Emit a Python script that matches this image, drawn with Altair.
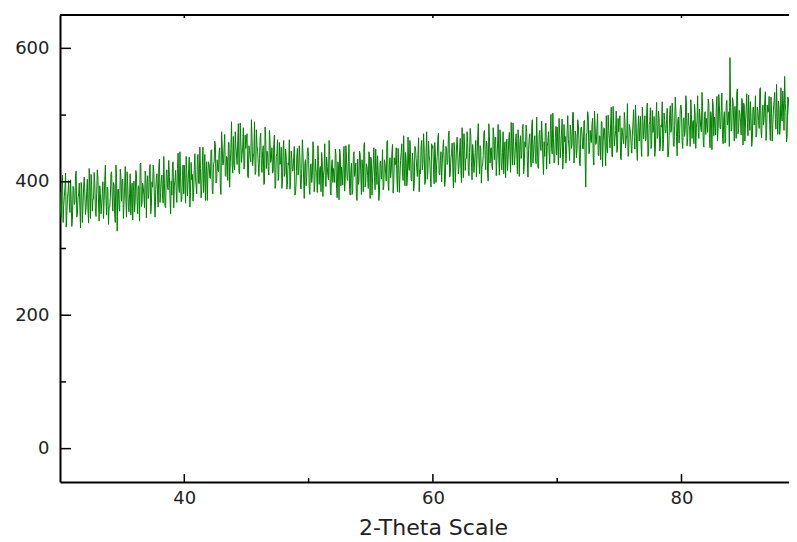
import altair as alt
import pandas as pd
import numpy as np

# ---- data ----
# counts at 2-theta = 30.00, 30.10, 30.20, ...
intensity_a = [
    385, 347, 410, 364, 392, 332, 377, 402, 354, 374,
    344, 389, 369, 416, 352, 382, 362, 399, 339, 392,
    382, 361, 404, 338, 386, 411, 356, 374, 398, 348,
    418, 368, 394, 352, 381, 345, 402, 372, 392, 336,
    362, 412, 377, 399, 351, 425, 326, 389, 356, 407,
    402, 345, 392, 374, 415, 362, 382, 350, 398, 385,
    355, 417, 371, 394, 341, 428, 368, 391, 361, 410,
    396, 375, 418, 352, 400, 425, 370, 388, 412, 362,
    434, 384, 410, 368, 397, 361, 418, 388, 408, 352,
    380, 430, 395, 417, 369, 443, 384, 407, 374, 425,
    425, 368, 414, 396, 437, 384, 403, 371, 419, 406,
    382, 441, 397, 420, 388, 452, 405, 372, 430, 412,
    426, 405, 448, 382, 430, 455, 400, 418, 444, 392,
    475, 425, 451, 409, 438, 402, 459, 429, 490, 413,
    425, 475, 440, 462, 414, 488, 429, 452, 419, 470,
    465, 408, 454, 436, 493, 424, 443, 411, 478, 446,
    408, 466, 422, 445, 396, 482, 420, 443, 410, 460,
    434, 413, 456, 390, 438, 463, 408, 426, 452, 400,
    462, 412, 438, 396, 425, 389, 446, 416, 436, 380,
    400, 450, 415, 437, 389, 463, 404, 427, 394, 445,
    438, 381, 427, 409, 450, 397, 416, 384, 432, 419,
    385, 430, 410, 457, 393, 423, 403, 440, 380, 433,
    420, 399, 442, 376, 424, 449, 394, 412, 436, 386,
    454, 404, 430, 388, 417, 381, 438, 408, 428, 372,
    396, 446, 411, 433, 385, 459, 400, 423, 390, 441,
    437, 380, 426, 408, 449, 396, 415, 383, 431, 418,
    388, 433, 413, 460, 396, 426, 406, 443, 383, 436,
    428, 407, 450, 384, 432, 457, 402, 420, 444, 394,
    467, 417, 443, 401, 430, 394, 451, 421, 441, 385,
    412, 462, 427, 449, 401, 475, 416, 439, 406, 457,
    454, 397, 443, 425, 466, 413, 432, 400, 448, 435,
    404, 449, 429, 476, 412, 442, 422, 459, 399, 452,
    443, 422, 465, 399, 447, 472, 417, 435, 459, 409,
    480, 430, 456, 414, 443, 407, 464, 434, 454, 398,
    424, 474, 439, 461, 413, 487, 428, 451, 418, 469,
    466, 409, 455, 437, 478, 425, 444, 412, 460, 447,
    417, 462, 442, 489, 425, 455, 435, 472, 412, 465,
    456, 435, 478, 412, 460, 485, 430, 448, 472, 422,
    493, 443, 469, 427, 456, 420, 477, 447, 467, 411,
    438, 488, 453, 475, 427, 501, 442, 465, 432, 483,
    482, 425, 471, 453, 494, 441, 460, 428, 476, 463,
    432, 477, 457, 504, 440, 470, 450, 487, 427, 480,
    470, 449, 492, 392, 474, 499, 444, 462, 486, 436,
    506, 456, 482, 440, 469, 433, 490, 460, 480, 424,
    450, 500, 465, 487, 439, 513, 454, 477, 444, 495,
    492, 435, 481, 463, 504, 451, 470, 438, 486, 473,
    443, 488, 468, 515, 451, 481, 461, 498, 438, 491,
    482, 461, 504, 438, 486, 511, 456, 474, 498, 448,
    519, 469, 495, 453, 482, 446, 503, 473, 493, 437,
    464, 514, 479, 501, 453, 527, 468, 491, 458, 509,
    507, 450, 496, 478, 519, 466, 485, 453, 501, 488,
    457, 502, 482, 529, 465, 495, 475, 512, 452, 505,
    495, 474, 517, 451, 499, 524, 469, 487, 511, 461,
    531, 481, 507, 465, 494, 458, 515, 485, 505, 586,
    476, 526, 491, 513, 465, 539, 480, 503, 470, 521,
    518, 461, 507, 489, 530, 477, 496, 464, 512, 499,
    467, 512, 492, 539, 475, 505, 485, 522, 462, 515,
    505, 484, 527, 461, 509, 534, 479, 497, 521, 471,
    541, 491, 517, 558, 504, 468, 525, 495, 515, 459,
]
# counts at 2-theta = 30.05, 30.15, 30.25, ...
intensity_b = [
    358, 399, 339, 378, 413, 350, 385, 367, 403, 333,
    393, 366, 410, 347, 376, 398, 331, 389, 363, 407,
    351, 385, 359, 420, 345, 394, 374, 414, 356, 383,
    407, 341, 382, 365, 400, 372, 425, 350, 389, 362,
    377, 415, 356, 396, 339, 406, 388, 361, 419, 371,
    404, 369, 423, 347, 395, 355, 412, 382, 343, 401,
    371, 412, 352, 391, 426, 363, 398, 380, 416, 346,
    409, 382, 426, 363, 392, 414, 347, 405, 379, 423,
    369, 403, 377, 438, 363, 412, 392, 432, 374, 401,
    427, 361, 402, 385, 420, 392, 445, 370, 409, 382,
    400, 438, 379, 419, 362, 429, 411, 384, 442, 394,
    433, 398, 452, 376, 424, 384, 441, 411, 372, 430,
    406, 447, 387, 426, 461, 398, 433, 415, 451, 381,
    454, 427, 471, 408, 437, 459, 392, 450, 424, 468,
    418, 452, 426, 487, 412, 461, 441, 481, 423, 450,
    472, 406, 447, 430, 465, 437, 490, 415, 454, 427,
    435, 473, 414, 454, 397, 464, 446, 419, 477, 429,
    451, 416, 470, 394, 442, 402, 459, 429, 390, 448,
    408, 449, 389, 428, 463, 400, 435, 417, 453, 383,
    437, 410, 454, 391, 420, 442, 375, 433, 407, 451,
    391, 425, 399, 460, 385, 434, 414, 454, 396, 423,
    444, 378, 419, 402, 437, 409, 462, 387, 426, 399,
    411, 449, 390, 430, 373, 440, 422, 395, 453, 405,
    437, 402, 456, 380, 428, 388, 445, 415, 376, 434,
    400, 441, 381, 420, 455, 392, 427, 409, 445, 375,
    434, 407, 451, 388, 417, 439, 372, 430, 404, 448,
    393, 427, 401, 462, 387, 436, 416, 456, 398, 425,
    451, 385, 426, 409, 444, 416, 469, 394, 433, 406,
    424, 462, 403, 443, 386, 453, 435, 408, 466, 418,
    453, 418, 472, 396, 444, 404, 461, 431, 392, 450,
    418, 459, 399, 438, 473, 410, 445, 427, 463, 393,
    453, 426, 470, 407, 436, 458, 391, 449, 423, 467,
    412, 446, 420, 481, 406, 455, 435, 475, 417, 444,
    469, 403, 444, 427, 462, 434, 487, 412, 451, 424,
    439, 477, 418, 458, 401, 468, 450, 423, 481, 433,
    467, 432, 486, 410, 458, 418, 475, 445, 406, 464,
    433, 474, 414, 453, 488, 425, 460, 442, 478, 408,
    469, 442, 486, 423, 452, 474, 407, 465, 439, 483,
    428, 462, 436, 497, 422, 471, 451, 491, 433, 460,
    485, 419, 460, 443, 478, 450, 503, 428, 467, 440,
    457, 495, 436, 476, 419, 486, 468, 441, 499, 451,
    485, 450, 504, 428, 476, 436, 493, 463, 424, 482,
    450, 491, 431, 470, 505, 442, 477, 459, 495, 425,
    485, 458, 502, 439, 468, 490, 423, 481, 455, 499,
    443, 477, 451, 512, 437, 486, 466, 506, 448, 475,
    499, 433, 474, 457, 492, 464, 517, 442, 481, 454,
    470, 508, 449, 489, 432, 499, 481, 454, 512, 464,
    499, 464, 518, 442, 490, 450, 507, 477, 438, 496,
    465, 506, 446, 485, 520, 457, 492, 474, 510, 440,
    501, 474, 518, 455, 484, 506, 439, 497, 471, 515,
    460, 494, 468, 529, 454, 503, 483, 523, 465, 492,
    516, 450, 491, 474, 509, 481, 534, 459, 498, 471,
    486, 524, 465, 505, 448, 515, 497, 470, 528, 480,
    514, 479, 533, 457, 505, 465, 522, 492, 453, 511,
    480, 521, 461, 500, 535, 472, 507, 489, 525, 455,
    515, 488, 532, 469, 498, 520, 453, 511, 485, 529,
    472, 506, 480, 541, 466, 515, 495, 535, 477, 504,
    528, 462, 503, 486, 521, 493, 546, 471, 510, 483,
    498, 536, 477, 517, 460, 527, 509, 482, 540, 492,
]
x_start = 30.0
x_step = 0.1

x_major = [40, 60, 80]
x_minor = [50, 70]
y_major = [0, 200, 400, 600]
y_minor = [100, 300, 500]

W, H = 729, 467
FONT = "DejaVu Sans"

xa = np.round(x_start + x_step * np.arange(len(intensity_a)), 3)
xb = np.round(x_start + x_step / 2 + x_step * np.arange(len(intensity_b)), 3)
df = pd.DataFrame({"x": np.concatenate([xa, xb]),
                   "y": intensity_a + intensity_b}).sort_values("x")

xscale = alt.Scale(domain=[30, 88.65], nice=False, zero=False)
yscale = alt.Scale(domain=[-50, 650], nice=False, zero=False)

x_axis = alt.Axis(values=x_major, title="2-Theta Scale", ticks=False, tickSize=0,
                  grid=False, domainColor="black", domainWidth=2,
                  labelFont=FONT, labelFontSize=18, labelColor="#222222",
                  labelPadding=7, titleFont=FONT, titleFontSize=22,
                  titleFontWeight="normal", titleColor="#222222",
                  titlePadding=10, titleX=373)
y_axis = alt.Axis(values=y_major, title=None, ticks=False, tickSize=0,
                  grid=False, domainColor="black", domainWidth=2,
                  labelFont=FONT, labelFontSize=18, labelColor="#222222",
                  labelPadding=11)

line = alt.Chart(df).mark_line(color="#008000", strokeWidth=1, clip=True).encode(
    x=alt.X("x:Q", scale=xscale, axis=x_axis),
    y=alt.Y("y:Q", scale=yscale, axis=y_axis),
    order="x:Q",
)

def ydf(vals):
    return pd.DataFrame({"y": vals})

def xdf(vals):
    return pd.DataFrame({"x": vals})

y_major_ticks = alt.Chart(ydf(y_major)).mark_rule(color="black", strokeWidth=1.5).encode(
    y=alt.Y("y:Q", scale=yscale, axis=y_axis), x=alt.value(0), x2=alt.value(11))
y_minor_ticks = alt.Chart(ydf(y_minor)).mark_rule(color="black", strokeWidth=1.5).encode(
    y=alt.Y("y:Q", scale=yscale, axis=y_axis), x=alt.value(0), x2=alt.value(6))
x_major_ticks = alt.Chart(xdf(x_major)).mark_rule(color="black", strokeWidth=1.5).encode(
    x=alt.X("x:Q", scale=xscale, axis=x_axis), y=alt.value(H), y2=alt.value(H - 8))
x_minor_ticks = alt.Chart(xdf(x_minor)).mark_rule(color="black", strokeWidth=1.5).encode(
    x=alt.X("x:Q", scale=xscale, axis=x_axis), y=alt.value(H), y2=alt.value(H - 4))
top_ticks = alt.Chart(xdf(x_major)).mark_rule(color="black", strokeWidth=1.5).encode(
    x=alt.X("x:Q", scale=xscale, axis=x_axis), y=alt.value(0), y2=alt.value(3))
top_border = alt.Chart(ydf([0])).mark_rule(color="black", strokeWidth=2).encode(
    x=alt.value(0), x2=alt.value(W), y=alt.value(0))

chart = alt.layer(
    line, y_major_ticks, y_minor_ticks, x_major_ticks, x_minor_ticks, top_ticks, top_border
).properties(
    width=W, height=H,
    autosize=alt.AutoSizeParams(type="none"),
    padding={"left": 52, "top": 7, "right": 0, "bottom": 60},
    background="white",
).configure_view(stroke=None)

chart.save("out.html", embed_options={"renderer": "svg", "actions": False})
